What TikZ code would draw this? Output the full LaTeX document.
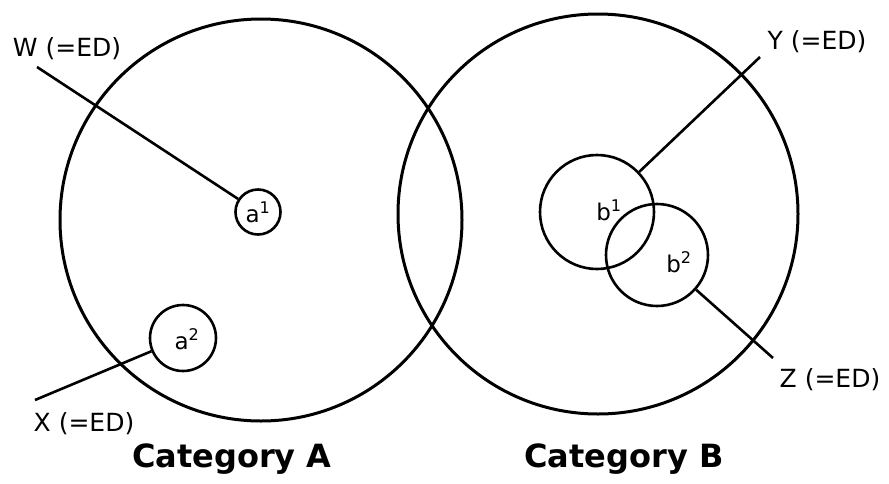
\documentclass[tikz,border=0pt]{standalone}
\usepackage{fontspec}
\setmainfont{DejaVu Sans}
\usetikzlibrary{positioning}
\tikzset{
  bigset/.style={draw, circle, line width=3pt, inner sep=0pt},
  subset/.style={draw, circle, line width=2.6pt, inner sep=0pt},
  elem/.style={font=\fontsize{23}{25}\selectfont, inner sep=0pt},
  edlabel/.style={font=\fontsize{25}{28}\selectfont, inner sep=0pt},
  catlabel/.style={font=\bfseries\fontsize{32}{36}\selectfont, inner sep=0pt},
  edline/.style={line width=2.6pt}
}
\begin{document}
\begin{tikzpicture}[x=1pt,y=-1pt]
  \useasboundingbox (0,0) rectangle (889,483);
  % the two categories
  \node[bigset, minimum size=402pt] (catA) at (261,220) {};
  \node[bigset, minimum size=400pt] (catB) at (598,214) {};
  % members of category A
  \node[subset, minimum size=45pt] (a1) at (258,212) {};
  \node[subset, minimum size=66pt] (a2) at (183,338) {};
  \node[elem] (a1txt) at (258,212) {a\textsuperscript{1}};
  \node[elem] (a2txt) at (187,339) {a\textsuperscript{2}};
  % members of category B
  \node[subset, minimum size=114pt] (b1) at (597,212) {};
  \node[subset, minimum size=102pt] (b2) at (657,255) {};
  \node[elem] (b1txt) at (609,210) {b\textsuperscript{1}};
  \node[elem] (b2txt) at (679,262) {b\textsuperscript{2}};
  % labels
  \node[edlabel] (wlab) at (67,49) {W (=ED)};
  \node[edlabel] (xlab) at (84,424) {X (=ED)};
  \node[edlabel] (ylab) at (817,42) {Y (=ED)};
  \node[edlabel] (zlab) at (830,380) {Z (=ED)};
  \coordinate (wend) at (37,67);
  \coordinate (xend) at (35,400);
  \coordinate (yend) at (760,57);
  \coordinate (zend) at (773,358);
  \draw[edline] (wend) -- (a1);
  \draw[edline] (xend) -- (a2);
  \draw[edline] (yend) -- (b1);
  \draw[edline] (zend) -- (b2);
  \node[catlabel] (catAtxt) at (232,459) {Category A};
  \node[catlabel] (catBtxt) at (624,459) {Category B};
\end{tikzpicture}
\end{document}
